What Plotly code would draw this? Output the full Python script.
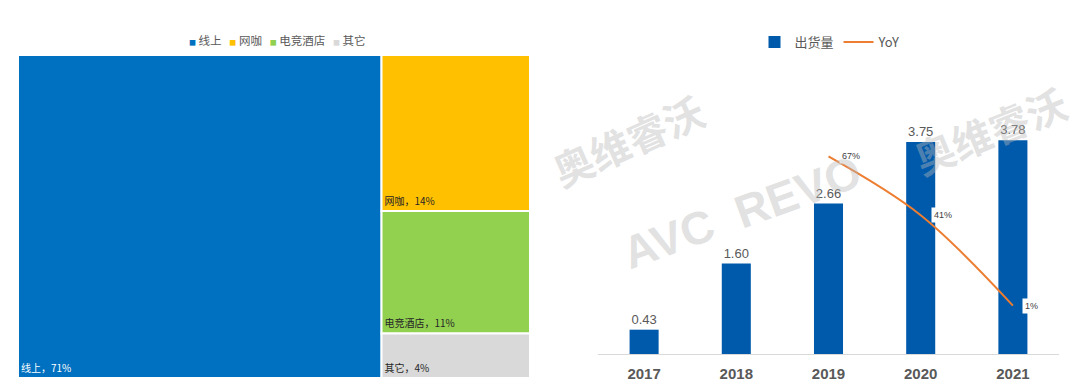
import plotly.graph_objects as go

# --- data ---
channels = ["线上", "网咖", "电竞酒店", "其它"]
shares = [71, 14, 11, 4]
channel_colors = ["#0070C0", "#FFC000", "#92D050", "#D9D9D9"]
channel_text_colors = ["#FFFFFF", "#262626", "#262626", "#262626"]

years = ["2017", "2018", "2019", "2020", "2021"]
shipments = [0.43, 1.60, 2.66, 3.75, 3.78]
yoy_years = ["2019", "2020", "2021"]
yoy = [67, 41, 1]
yoy_labels = ["67%", "41%", "1%"]

W, H = 1080, 392
OFF = 8  # page body margin
FONT = "Noto Sans CJK SC, Arial, sans-serif"
GREY_TXT = "#595959"


def xp(px):
    return (px - OFF) / W


def yp(py):
    return 1 - (py - OFF) / H


fig = go.Figure()

# Treemap
fig.add_trace(go.Treemap(
    labels=channels,
    parents=[""] * len(channels),
    values=shares,
    sort=True,
    marker=dict(colors=channel_colors, line=dict(color="white", width=2),
                pad=dict(t=0, l=0, r=0, b=0)),
    texttemplate="%{label}，%{value}%",
    textposition="bottom left",
    textfont=dict(size=10, color=channel_text_colors, family=FONT),
    tiling=dict(packing="squarify", pad=0),
    pathbar=dict(visible=False),
    domain=dict(x=[xp(18), xp(530)], y=[yp(378), yp(55)]),
    hoverinfo="label+value",
))

# Treemap legend (text with coloured squares)
legend_parts = [
    f"<span style='color:{c};font-size:7px'>■</span> {n}"
    for n, c in zip(channels, channel_colors)
]
fig.add_annotation(
    x=xp(277), y=yp(40), xref="paper", yref="paper",
    xanchor="center", yanchor="middle", showarrow=False,
    text="&nbsp;&nbsp;&nbsp;".join(legend_parts),
    font=dict(size=11.5, color=GREY_TXT, family=FONT),
)

# Bars
fig.add_trace(go.Bar(
    x=years, y=shipments, name="出货量",
    marker=dict(color="#005AAB", line=dict(width=0)),
    text=[f"{v:.2f}" for v in shipments],
    textposition="outside",
    textfont=dict(size=13, color=GREY_TXT, family="Arial"),
    cliponaxis=False,
    xaxis="x", yaxis="y",
))

# YoY line
fig.add_trace(go.Scatter(
    x=yoy_years, y=yoy, name="YoY", mode="lines",
    line=dict(color="#ED7D31", width=2, shape="spline"),
    xaxis="x", yaxis="y2",
))

for yr, v, lab, sh in zip(yoy_years, yoy, yoy_labels, [22, 22, 19]):
    fig.add_annotation(
        x=years.index(yr), y=v, xref="x", yref="y2", text=lab, showarrow=False,
        xshift=sh, font=dict(size=9, color="#404040", family="Arial"),
        bgcolor="white", borderpad=2,
    )

# Watermarks
wm_col = "rgba(185,185,185,0.42)"
for txt, px, py, ang, sz, fam in [
    ("<b>奥维睿沃</b>", 628, 140, -24, 40, "Noto Sans CJK SC"),
    ("<b>AVC  REVO</b>", 742, 212, -20, 46, "Arial"),
    ("<b>奥维睿沃</b>", 990, 130, -22, 40, "Noto Sans CJK SC"),
]:
    fig.add_annotation(x=xp(px), y=yp(py), xref="paper", yref="paper",
                       xanchor="center", yanchor="middle",
                       text=txt, showarrow=False, textangle=ang,
                       font=dict(size=sz, family=fam, color=wm_col))

fig.update_layout(
    width=W, height=H,
    margin=dict(l=0, r=0, t=0, b=0),
    paper_bgcolor="white", plot_bgcolor="white",
    font=dict(family=FONT, color=GREY_TXT),
    bargap=0.685,
    showlegend=True,
    xaxis=dict(type="category", domain=[xp(598), xp(1059)], anchor="y",
               range=[-0.5, len(years) - 0.5],
               showgrid=False, showline=True, linecolor="#D9D9D9", linewidth=1,
               ticks="", tickfont=dict(size=15, color=GREY_TXT, family="Arial", weight="bold"),
               ticklabelstandoff=6, automargin=False, fixedrange=True),
    yaxis=dict(domain=[yp(354), yp(60)], range=[0, 5.2], visible=False,
               showgrid=False, zeroline=False, automargin=False),
    yaxis2=dict(overlaying="y", anchor="x", range=[-20.4, 109.7], visible=False,
                showgrid=False, zeroline=False),
    legend=dict(orientation="h", x=xp(830), xanchor="center", y=yp(42),
                yanchor="middle", font=dict(size=13, color=GREY_TXT, family=FONT),
                bgcolor="rgba(0,0,0,0)"),
)

fig.write_html("out.html")
